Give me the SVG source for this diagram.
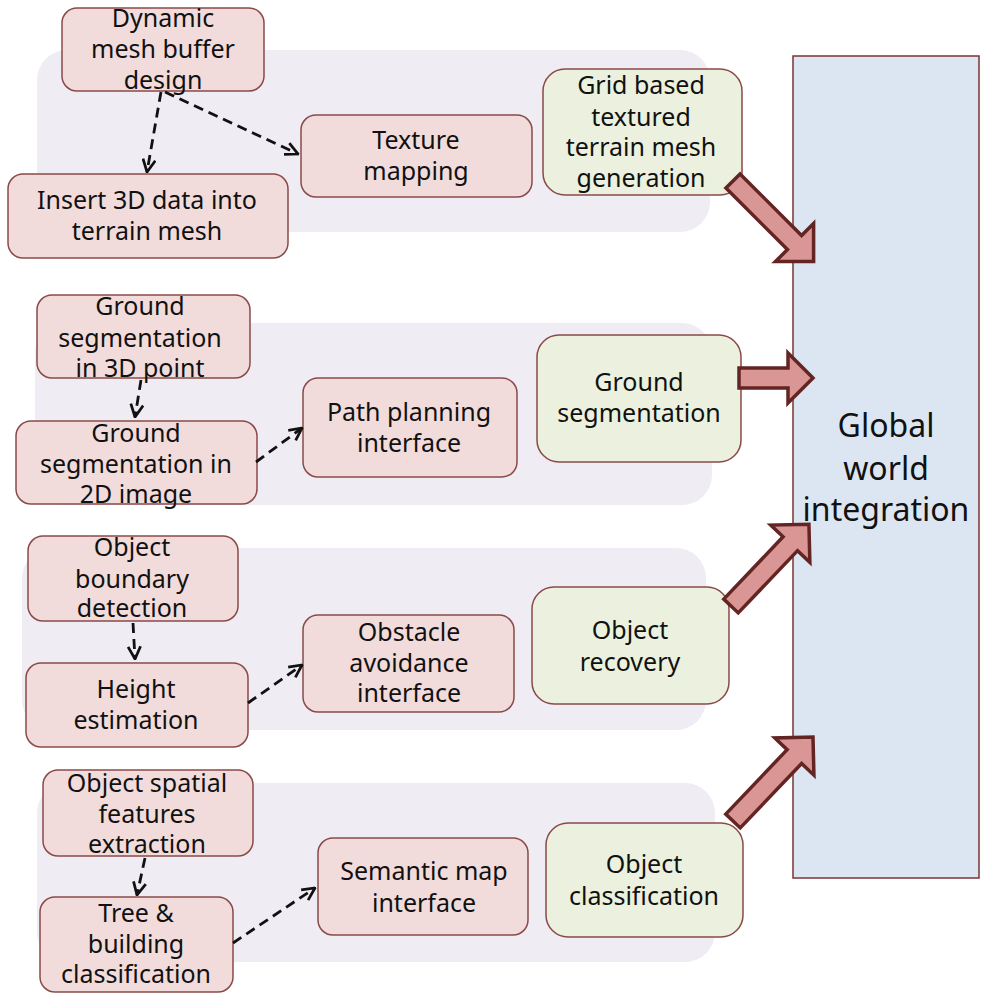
<svg xmlns="http://www.w3.org/2000/svg" width="988" height="1000" viewBox="0 0 988 1000">
<style>
.panel{fill:#efecf4;stroke:none}
.pk{fill:#f2dcdb;stroke:#8a4a48;stroke-width:1.5}
.gr{fill:#ebf1de;stroke:#8a4a48;stroke-width:1.5}
.gl{fill:#dce6f2;stroke:#7a3532;stroke-width:1.5}
text{font-family:"Noto Sans","Open Sans","DejaVu Sans",sans-serif;font-size:25px;fill:#111;text-anchor:middle}
.big{font-size:32px}
.dash{fill:none;stroke:#111;stroke-width:2.8;stroke-dasharray:10 6;marker-end:url(#v)}
.blk{fill:#d99694;stroke:#632523;stroke-width:3.5;stroke-linejoin:miter}
</style>
<defs>
<marker id="v" viewBox="0 0 12 12" refX="11" refY="6" markerWidth="15" markerHeight="15" markerUnits="userSpaceOnUse" orient="auto">
<path d="M1,1 L11,6 L1,11" fill="none" stroke="#111" stroke-width="2.2"/>
</marker>
</defs>
<rect width="988" height="1000" fill="#fff"/>
<g id="panels">
<rect class="panel" x="37" y="50" width="673" height="182" rx="30"/>
<rect class="panel" x="35" y="323" width="677" height="182" rx="30"/>
<rect class="panel" x="22" y="548" width="684" height="182" rx="30"/>
<rect class="panel" x="37" y="783" width="678" height="179" rx="30"/>
</g>
<g id="global">
<rect class="gl" x="793" y="56" width="186" height="822"/>
<text class="big" x="886" y="437">Global</text>
<text class="big" x="886" y="480">world</text>
<text class="big" x="886" y="521">integration</text>
</g>
<g id="n-dynamic">
<rect class="pk" x="62" y="8" width="202" height="83" rx="15"/>
<text x="163" y="27">Dynamic</text><text x="163" y="58">mesh buffer</text><text x="163" y="89">design</text>
</g>
<g id="n-insert">
<rect class="pk" x="8" y="174" width="280" height="84" rx="15"/>
<text x="147" y="209">Insert 3D data into</text><text x="147" y="240">terrain mesh</text>
</g>
<g id="n-texture">
<rect class="pk" x="301" y="115" width="231" height="82" rx="15"/>
<text x="416" y="149">Texture</text><text x="416" y="180">mapping</text>
</g>
<g id="n-grid">
<rect class="gr" x="543" y="69" width="199" height="126" rx="22"/>
<text x="641" y="94">Grid based</text><text x="641" y="126">textured</text><text x="641" y="156">terrain mesh</text><text x="641" y="187">generation</text>
</g>
<g id="n-gs3d">
<rect class="pk" x="37" y="295" width="213" height="83" rx="15"/>
<text x="140" y="315">Ground</text><text x="140" y="347">segmentation</text><text x="140" y="377">in 3D point</text>
</g>
<g id="n-gs2d">
<rect class="pk" x="16" y="421" width="241" height="83" rx="15"/>
<text x="136" y="442">Ground</text><text x="136" y="473">segmentation in</text><text x="136" y="503">2D image</text>
</g>
<g id="n-path">
<rect class="pk" x="303" y="378" width="214" height="99" rx="15"/>
<text x="409" y="421">Path planning</text><text x="409" y="452">interface</text>
</g>
<g id="n-ground">
<rect class="gr" x="537" y="335" width="204" height="127" rx="22"/>
<text x="639" y="391">Ground</text><text x="639" y="422">segmentation</text>
</g>
<g id="n-boundary">
<rect class="pk" x="28" y="536" width="210" height="85" rx="15"/>
<text x="132" y="556">Object</text><text x="132" y="588">boundary</text><text x="132" y="617">detection</text>
</g>
<g id="n-height">
<rect class="pk" x="26" y="663" width="222" height="84" rx="15"/>
<text x="136" y="698">Height</text><text x="136" y="729">estimation</text>
</g>
<g id="n-obstacle">
<rect class="pk" x="303" y="615" width="211" height="97" rx="15"/>
<text x="409" y="641">Obstacle</text><text x="409" y="672">avoidance</text><text x="409" y="702">interface</text>
</g>
<g id="n-recovery">
<rect class="gr" x="532" y="587" width="197" height="117" rx="22"/>
<text x="630" y="639">Object</text><text x="630" y="671">recovery</text>
</g>
<g id="n-spatial">
<rect class="pk" x="43" y="770" width="210" height="86" rx="15"/>
<text x="147" y="792">Object spatial</text><text x="147" y="823">features</text><text x="147" y="853">extraction</text>
</g>
<g id="n-tree">
<rect class="pk" x="40" y="897" width="193" height="95" rx="15"/>
<text x="136" y="922">Tree &amp;</text><text x="136" y="953">building</text><text x="136" y="983">classification</text>
</g>
<g id="n-semantic">
<rect class="pk" x="318" y="838" width="210" height="97" rx="15"/>
<text x="424" y="880">Semantic map</text><text x="424" y="912">interface</text>
</g>
<g id="n-classification">
<rect class="gr" x="546" y="823" width="197" height="114" rx="22"/>
<text x="644" y="873">Object</text><text x="644" y="905">classification</text>
</g>
<g id="connectors">
<path class="dash" d="M161,92 L147,172"/>
<path class="dash" d="M165,92 L298,154"/>
<path class="dash" d="M141,380 L135,417"/>
<path class="dash" d="M256,462 L302,428"/>
<path class="dash" d="M133,623 L135,659"/>
<path class="dash" d="M248,703 L302,665"/>
<path class="dash" d="M145,858 L137,895"/>
<path class="dash" d="M233,943 L315,888"/>
<polygon class="blk" transform="translate(733,181) rotate(45)" points="0,-10 87,-10 87,-27 114,0 87,27 87,10 0,10"/>
<polygon class="blk" transform="translate(739,378)" points="0,-10 49,-10 49,-25 74,0 49,25 49,10 0,10"/>
<polygon class="blk" transform="translate(731,606) rotate(-46.4)" points="0,-10 86,-10 86,-27 113,0 86,27 86,10 0,10"/>
<polygon class="blk" transform="translate(733,821) rotate(-46.4)" points="0,-10 89,-10 89,-27 116,0 89,27 89,10 0,10"/>
</g>
</svg>
